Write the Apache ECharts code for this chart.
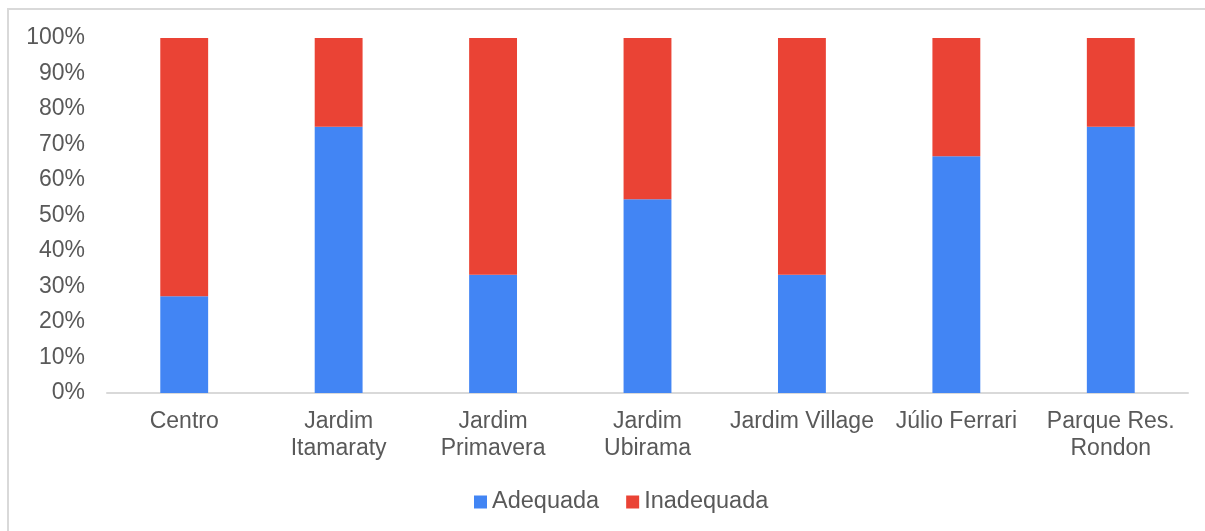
<!DOCTYPE html>
<html>
<head>
<meta charset="utf-8">
<script src="https://cdn.jsdelivr.net/npm/echarts@6/dist/echarts.min.js"></script>
<style>
  html, body { margin: 0; padding: 0; background: #fff; overflow: hidden; }
  #frame { position: absolute; left: 7px; top: 8px; width: 1400px; height: 700px;
           border-left: 2px solid #d9d9d9; border-top: 2px solid #d9d9d9; }
  #chart { position: absolute; left: 0; top: 0; width: 1205px; height: 531px; }
</style>
</head>
<body>
<div id="frame"></div>
<div id="chart"></div>
<script>
// bairros e proporções (%)
var categories = ['Centro', 'Jardim\nItamaraty', 'Jardim\nPrimavera', 'Jardim\nUbirama', 'Jardim Village', 'Júlio Ferrari', 'Parque Res.\nRondon'];
var adequada = [27.27, 75, 33.33, 54.55, 33.33, 66.67, 75];
var inadequada = [72.73, 25, 66.67, 45.45, 66.67, 33.33, 25];
var yTicks = [0, 10, 20, 30, 40, 50, 60, 70, 80, 90, 100];

var myChart = echarts.init(document.getElementById('chart'));
var txt = '#595959';
var font = 'Liberation Sans, Arial, sans-serif';

var option = {
    animation: false,
    grid: { left: 107, right: 17, top: 38, bottom: 138 },
    legend: {
        top: 485,
        left: 469,
        itemWidth: 13,
        itemHeight: 13,
        itemGap: 27,
        icon: 'rect',
        textStyle: { color: txt, fontSize: 23.5, fontFamily: font },
        data: ['Adequada', 'Inadequada']
    },
    xAxis: {
        type: 'category',
        data: categories,
        axisLine: { lineStyle: { color: '#d9d9d9', width: 2 } },
        axisTick: { show: false },
        axisLabel: { color: txt, fontSize: 23, fontFamily: font, lineHeight: 27, margin: 15, interval: 0 }
    },
    yAxis: {
        type: 'value',
        min: yTicks[0],
        max: yTicks[yTicks.length - 1],
        interval: 10,
        axisLine: { show: false },
        axisTick: { show: false },
        splitLine: { show: false },
        axisLabel: { color: txt, fontSize: 23, fontFamily: font, margin: 22, formatter: '{value}%' }
    },
    series: [
        {
            name: 'Adequada', type: 'bar', stack: 'a', barWidth: '31%',
            itemStyle: { color: '#4285f4' },
            data: adequada
        },
        {
            name: 'Inadequada', type: 'bar', stack: 'a', barWidth: '31%',
            itemStyle: { color: '#ea4335' },
            data: inadequada
        }
    ]
};
myChart.setOption(option);
</script>
</body>
</html>
